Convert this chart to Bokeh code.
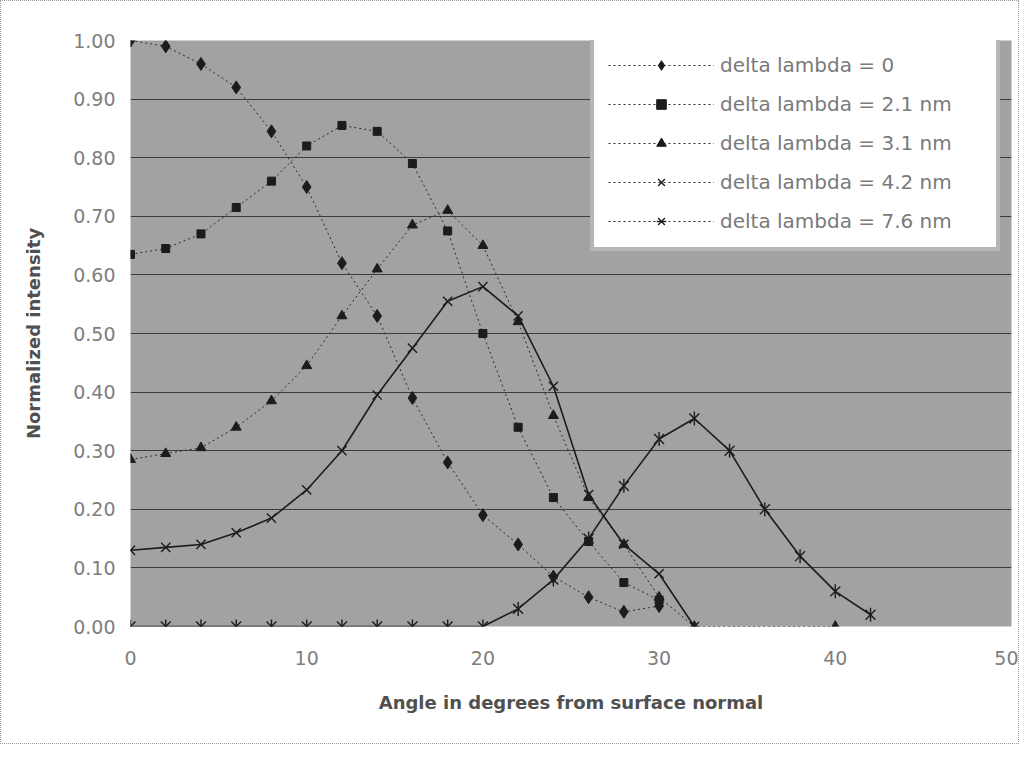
import math
from bokeh.plotting import figure
from bokeh.models import Range1d, FixedTicker, NumeralTickFormatter, Legend, LegendItem
from bokeh.embed import file_html
from bokeh.resources import INLINE

# ---- data ----
angle_0 = [0, 2, 4, 6, 8, 10, 12, 14, 16, 18, 20, 22, 24, 26, 28, 30]
int_0 = [1.00, 0.99, 0.96, 0.92, 0.845, 0.75, 0.62, 0.53, 0.39, 0.28, 0.19, 0.14, 0.085, 0.05, 0.025, 0.035]

angle_21 = [0, 2, 4, 6, 8, 10, 12, 14, 16, 18, 20, 22, 24, 26, 28, 30]
int_21 = [0.635, 0.645, 0.67, 0.715, 0.76, 0.82, 0.855, 0.845, 0.79, 0.675, 0.50, 0.34, 0.22, 0.145, 0.075, 0.045]

angle_31 = [0, 2, 4, 6, 8, 10, 12, 14, 16, 18, 20, 22, 24, 26, 28, 30, 32, 40]
int_31 = [0.285, 0.295, 0.305, 0.34, 0.385, 0.445, 0.53, 0.61, 0.685, 0.71, 0.65, 0.52, 0.36, 0.22, 0.14, 0.05, 0.00, 0.00]

angle_42 = [0, 2, 4, 6, 8, 10, 12, 14, 16, 18, 20, 22, 24, 26, 28, 30, 32]
int_42 = [0.13, 0.135, 0.14, 0.16, 0.185, 0.233, 0.30, 0.395, 0.475, 0.555, 0.58, 0.53, 0.41, 0.225, 0.14, 0.09, 0.00]

angle_76 = [0, 2, 4, 6, 8, 10, 12, 14, 16, 18, 20, 22, 24, 26, 28, 30, 32, 34, 36, 38, 40, 42]
int_76 = [0, 0, 0, 0, 0, 0, 0, 0, 0, 0, 0, 0.03, 0.08, 0.15, 0.24, 0.32, 0.355, 0.30, 0.20, 0.12, 0.06, 0.02]

labels = ["delta lambda = 0", "delta lambda = 2.1 nm", "delta lambda = 3.1 nm",
          "delta lambda = 4.2 nm", "delta lambda = 7.6 nm"]
x_ticks = [0, 10, 20, 30, 40, 50]
y_ticks = [0.0, 0.1, 0.2, 0.3, 0.4, 0.5, 0.6, 0.7, 0.8, 0.9, 1.0]

INK = "#1c1c1c"
FONT = "DejaVu Sans"
NAN = float("nan")

p = figure(width=1019, height=744, output_backend="svg", toolbar_location=None,
           x_range=Range1d(0, 50), y_range=Range1d(0, 1),
           min_border_left=129, min_border_right=9, min_border_top=39, min_border_bottom=119)
p.styles = {"border": "1px dotted #9a9a9a"}

p.background_fill_color = "#a2a2a2"
p.border_fill_color = "white"
p.outline_line_color = None

p.xgrid.grid_line_color = None
p.ygrid.ticker = FixedTicker(ticks=y_ticks)
p.ygrid.grid_line_color = "#3c3c3c"
p.ygrid.grid_line_width = 1

p.xaxis.ticker = FixedTicker(ticks=x_ticks)
p.yaxis.ticker = FixedTicker(ticks=y_ticks)
p.yaxis.formatter = NumeralTickFormatter(format="0.00")
for ax in (p.xaxis, p.yaxis):
    ax.axis_line_color = None
    ax.major_tick_line_color = None
    ax.minor_tick_line_color = None
    ax.major_tick_out = 0
    ax.major_label_text_font = FONT
    ax.major_label_text_font_size = "19px"
    ax.major_label_text_color = "#7e7e7e"
    ax.axis_label_text_font = FONT
    ax.axis_label_text_font_size = "18px"
    ax.axis_label_text_font_style = "bold"
    ax.axis_label_text_color = "#505050"
p.xaxis.major_label_standoff = 24
p.xaxis.axis_label_standoff = 24
p.yaxis.major_label_standoff = 15
p.yaxis.axis_label_standoff = 26
p.xaxis.axis_label = "Angle in degrees from surface normal"
p.yaxis.axis_label = "Normalized intensity"

DOT = "2 3"
l0 = p.line(angle_0, int_0, line_color="#2a2a2a", line_width=1, line_dash=DOT)
s0 = p.scatter(angle_0, int_0, marker="diamond", size=13, color=INK)

l1 = p.line(angle_21, int_21, line_color="#2a2a2a", line_width=1, line_dash=DOT)
s1 = p.scatter(angle_21, int_21, marker="square", size=8, color=INK)

l2 = p.line(angle_31, int_31, line_color="#2a2a2a", line_width=1, line_dash=DOT)
s2 = p.scatter(angle_31, int_31, marker="triangle", size=10, color=INK)

l3 = p.line(angle_42, int_42, line_color=INK, line_width=1.6)
s3 = p.scatter(angle_42, int_42, marker="x", size=13, line_color=INK, line_width=1.4)

l4 = p.line(angle_76, int_76, line_color=INK, line_width=1.6)
s4a = p.scatter(angle_76, int_76, marker="x", size=14, line_color=INK, line_width=1.4)
s4b = p.scatter(angle_76, int_76, marker="dash", angle=math.pi / 2, size=14, line_color=INK, line_width=1.4)

# dotted stand-ins (no visible data) used only for the legend glyphs of the solid series
d3 = p.line([NAN, NAN], [NAN, NAN], line_color="#2a2a2a", line_width=1, line_dash=DOT)
d4 = p.line([NAN, NAN], [NAN, NAN], line_color="#2a2a2a", line_width=1, line_dash=DOT)

items = [
    LegendItem(label=labels[0], renderers=[l0, s0]),
    LegendItem(label=labels[1], renderers=[l1, s1]),
    LegendItem(label=labels[2], renderers=[l2, s2]),
    LegendItem(label=labels[3], renderers=[d3, s3]),
    LegendItem(label=labels[4], renderers=[d4, s4a, s4b]),
]
legend = Legend(items=items, location=(460, 375), margin=0,
                padding=14, spacing=15, glyph_width=106, glyph_height=24,
                label_height=24, label_width=262, label_standoff=6,
                label_text_font=FONT, label_text_font_size="20px",
                label_text_color="#7a7a7a",
                background_fill_color="white", background_fill_alpha=1.0,
                border_line_color="#6e6e6e", border_line_width=4)
p.add_layout(legend, "center")

open("out.html", "w").write(file_html(p, INLINE))
